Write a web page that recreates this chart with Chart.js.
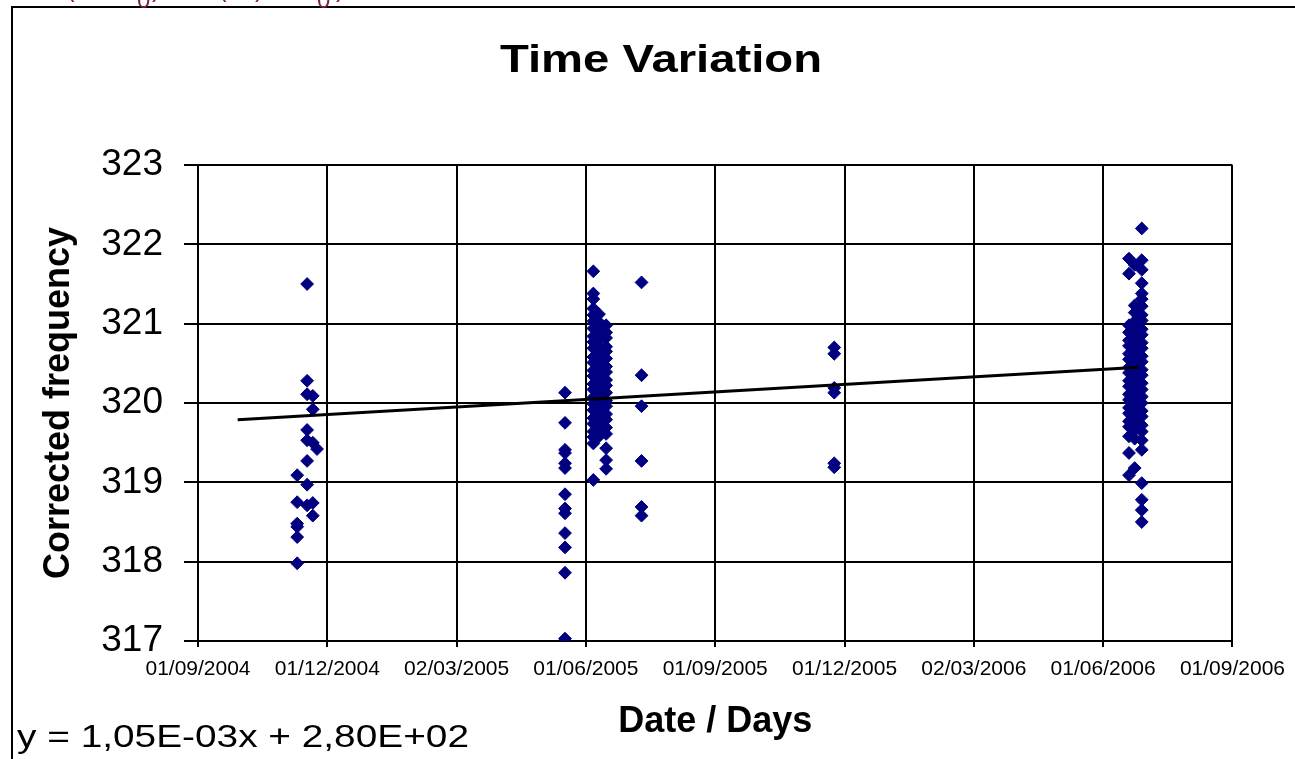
<!DOCTYPE html>
<html>
<head>
<meta charset="utf-8">
<title>Time Variation</title>
<script src="https://cdn.jsdelivr.net/npm/chart.js@4.4.1/dist/chart.umd.min.js"></script>
<style>
    html, body { margin: 0; padding: 0; background: #fff; }
    #chart { display: block; }
</style>
</head>
<body>
<canvas id="chart" width="1295" height="759"></canvas>
<script>
// x values are Excel day numbers (38231 = 01/09/2004)
const tickDays = [38231, 38322.25, 38413.5, 38504.75, 38596, 38687.25, 38778.5, 38869.75, 38961];
const tickDates = ["01/09/2004", "01/12/2004", "02/03/2005", "01/06/2005", "01/09/2005",
                   "01/12/2005", "02/03/2006", "01/06/2006", "01/09/2006"];

// measurement days, and the corrected frequencies read on each of them
const measDays = [38301, 38308, 38312, 38315, 38490, 38510, 38514, 38519, 38544, 38680, 38888, 38892, 38897];
const measFreq = [
    [319.09, 318.75, 318.48, 318.44, 318.31, 317.98],
    [321.50, 320.28, 320.11, 319.66, 319.53, 319.27, 318.97, 318.71],
    [320.09, 319.92, 319.50, 318.74, 318.58],
    [319.42],
    [320.13, 319.75, 319.41, 319.37, 319.24, 319.18, 318.85, 318.67, 318.61, 318.36, 318.18, 317.86, 317.03],
    [321.66, 321.38, 321.31, 321.19, 321.11, 321.03, 320.94, 320.84, 320.77, 320.69, 320.58, 320.51, 320.41,
     320.34, 320.24, 320.17, 320.07, 319.99, 319.91, 319.81, 319.74, 319.64, 319.57, 319.49, 319.03],
    [321.12, 321.02, 320.96, 320.87, 320.79, 320.68, 320.62, 320.53, 320.43, 320.36, 320.26, 320.19, 320.09,
     320.02, 319.93, 319.83, 319.76, 319.67, 319.58],
    [320.98, 320.89, 320.82, 320.71, 320.65, 320.56, 320.46, 320.39, 320.29, 320.22, 320.13, 320.03, 319.96,
     319.86, 319.79, 319.69, 319.61, 319.43, 319.28, 319.17],
    [321.52, 320.35, 319.96, 319.27, 318.69, 318.58],
    [320.70, 320.62, 320.19, 320.13, 319.24, 319.19],
    [321.82, 321.63, 320.98, 320.89, 320.79, 320.72, 320.62, 320.55, 320.45, 320.38, 320.28, 320.21, 320.11,
     320.04, 319.94, 319.87, 319.77, 319.70, 319.58, 319.37, 319.09],
    [321.74, 321.23, 321.14, 321.03, 320.96, 320.85, 320.79, 320.68, 320.62, 320.51, 320.44, 320.34, 320.27,
     320.17, 320.10, 320.00, 319.93, 319.82, 319.76, 319.66, 319.55, 319.18],
    [322.20, 321.80, 321.68, 321.51, 321.38, 321.31, 321.22, 321.11, 321.04, 320.93, 320.86, 320.76, 320.69,
     320.59, 320.52, 320.42, 320.35, 320.25, 320.17, 320.08, 320.00, 319.90, 319.83, 319.72, 319.64, 319.53,
     319.41, 318.99, 318.78, 318.65, 318.50]
];

// linear trend line ends
const trendDays = [38259, 38895];
const trendFreq = [319.79, 320.45];
const trendLabel = "y = 1,05E-03x + 2,80E+02";

const fontFamily = "'Liberation Sans', Arial, sans-serif";
Chart.defaults.font.family = fontFamily;
Chart.defaults.color = "#000";

const points = measDays.flatMap((d, i) => measFreq[i].map(f => ({ x: d, y: f })));
const trend = trendDays.map((d, i) => ({ x: d, y: trendFreq[i] }));

// draw text stretched to a given width (the original export has wide glyphs)
function stretchText(ctx, text, x, y, width, align) {
    const w = ctx.measureText(text).width;
    ctx.save();
    ctx.translate(x, y);
    ctx.scale(width / w, 1);
    ctx.textAlign = align;
    ctx.fillText(text, 0, 0);
    ctx.restore();
}

const decor = {
    id: "decor",
    beforeDraw(chart) {
        const ctx = chart.ctx;
        ctx.save();
        ctx.fillStyle = "#fff";
        ctx.fillRect(0, 0, chart.width, chart.height);

        // outer chart frame
        ctx.strokeStyle = "#000";
        ctx.lineWidth = 2;
        ctx.beginPath();
        ctx.moveTo(12, chart.height);
        ctx.lineTo(12, 7);
        ctx.lineTo(chart.width, 7);
        ctx.stroke();

        // bottom of the formula cut off above the frame
        ctx.fillStyle = "#7f1f4f";
        ctx.textBaseline = "alphabetic";
        ctx.font = "26px " + fontFamily;
        ctx.fillText("(", 66, -3);
        ctx.fillText(")", 152, -3);
        ctx.fillText("(", 218, -3);
        ctx.fillText(")", 255, -3);
        ctx.fillText(")", 336, -3);
        ctx.font = "24px " + fontFamily;
        ctx.fillText("0", 137, 8);
        ctx.fillText("0", 317, 8);

        // title
        ctx.fillStyle = "#000";
        ctx.font = "bold 38px " + fontFamily;
        stretchText(ctx, "Time Variation", 661, 72, 322, "center");

        // trend line equation
        ctx.font = "32px " + fontFamily;
        stretchText(ctx, trendLabel, 17, 747, 452, "left");
        ctx.restore();
    }
};

new Chart(document.getElementById("chart"), {
    type: "scatter",
    data: {
        datasets: [
            {
                type: "line",
                label: "Linear trend",
                data: trend,
                borderColor: "#000",
                borderWidth: 3,
                pointRadius: 0,
                fill: false,
                order: 0
            },
            {
                label: "Corrected frequency",
                data: points,
                pointStyle: "rectRot",
                pointRadius: 6.4,
                pointBorderWidth: 1,
                backgroundColor: "#000080",
                borderColor: "#000080",
                order: 1
            }
        ]
    },
    options: {
        responsive: false,
        animation: false,
        devicePixelRatio: 1,
        layout: { padding: { left: 12, right: 62, top: 165, bottom: 0 } },
        plugins: {
            legend: { display: false },
            tooltip: { enabled: false },
            title: { display: false }
        },
        scales: {
            x: {
                type: "linear",
                min: 38231,
                max: 38961,
                afterFit: s => { s.height = 118; },
                afterBuildTicks: s => { s.ticks = tickDays.map(v => ({ value: v })); },
                ticks: {
                    autoSkip: false,
                    maxRotation: 0,
                    padding: 10,
                    font: { size: 21 },
                    callback: (v, i) => tickDates[i]
                },
                grid: { color: "#000", lineWidth: 2, tickLength: 6 },
                border: { color: "#000", width: 2 },
                title: {
                    display: true,
                    text: "Date / Days",
                    font: { size: 36, weight: "bold" },
                    padding: { top: 0, bottom: 15 }
                }
            },
            y: {
                min: 317,
                max: 323,
                afterFit: s => { s.width = 186; },
                ticks: {
                    stepSize: 1,
                    padding: 21,
                    font: { size: 37 }
                },
                grid: { color: "#000", lineWidth: 2, tickLength: 14 },
                border: { color: "#000", width: 2 },
                title: {
                    display: true,
                    text: "Corrected frequency",
                    font: { size: 36, weight: "bold" },
                    padding: { top: 25, bottom: 0 }
                }
            }
        }
    },
    plugins: [decor]
});
</script>
</body>
</html>
